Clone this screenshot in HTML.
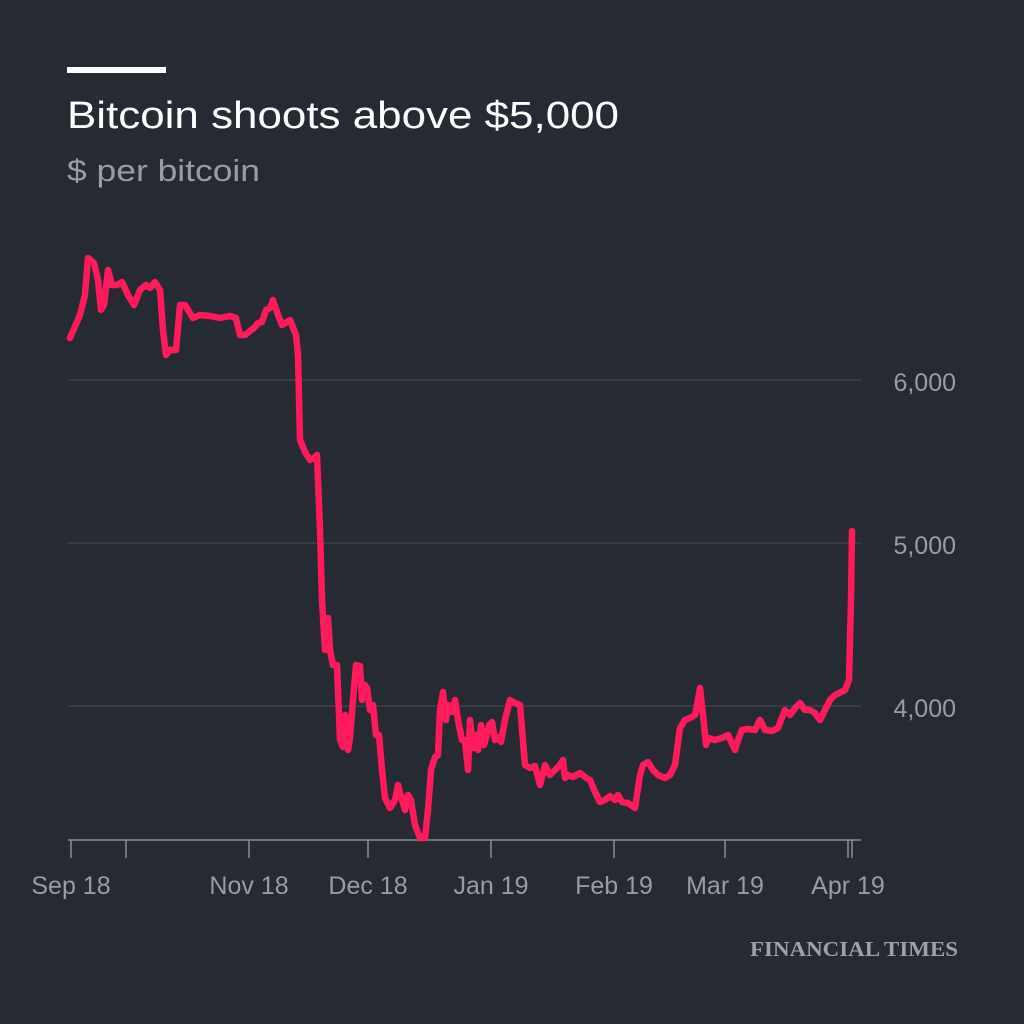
<!DOCTYPE html>
<html><head><meta charset="utf-8"><style>
html,body{margin:0;padding:0;background:#262a33;}
svg{display:block;}
</style></head><body>
<svg width="1024" height="1024" viewBox="0 0 1024 1024" xmlns="http://www.w3.org/2000/svg">
<rect width="1024" height="1024" fill="#262a33"/>
<rect x="67" y="67" width="99" height="6" fill="#ffffff"/>
<text x="67" y="128" font-family="Liberation Sans, sans-serif" font-size="38" fill="#ffffff" textLength="552" lengthAdjust="spacingAndGlyphs">Bitcoin shoots above $5,000</text>
<text x="67" y="181" font-family="Liberation Sans, sans-serif" font-size="31" fill="#9a9ba3" textLength="193" lengthAdjust="spacingAndGlyphs">$ per bitcoin</text>
<g stroke="#3d414a" stroke-width="1.5">
<line x1="68" y1="380" x2="861" y2="380"/>
<line x1="68" y1="543" x2="861" y2="543"/>
<line x1="68" y1="706" x2="861" y2="706"/>
</g>
<g stroke="#8a8c94" stroke-width="1.5">
<line x1="68" y1="840" x2="861" y2="840"/>
<line x1="71" y1="840" x2="71" y2="858"/>
<line x1="126" y1="840" x2="126" y2="858"/>
<line x1="249" y1="840" x2="249" y2="858"/>
<line x1="368" y1="840" x2="368" y2="858"/>
<line x1="491" y1="840" x2="491" y2="858"/>
<line x1="614" y1="840" x2="614" y2="858"/>
<line x1="725" y1="840" x2="725" y2="858"/>
<line x1="848" y1="840" x2="848" y2="858"/>
<line x1="852" y1="840" x2="852" y2="858"/>
</g>
<g font-family="Liberation Sans, sans-serif" font-size="25" fill="#9a9ba3">
<text x="956" y="391" text-anchor="end">6,000</text>
<text x="956" y="554" text-anchor="end">5,000</text>
<text x="956" y="717" text-anchor="end">4,000</text>
<text x="71" y="894" text-anchor="middle">Sep 18</text>
<text x="249" y="894" text-anchor="middle">Nov 18</text>
<text x="368" y="894" text-anchor="middle">Dec 18</text>
<text x="491" y="894" text-anchor="middle">Jan 19</text>
<text x="614" y="894" text-anchor="middle">Feb 19</text>
<text x="725" y="894" text-anchor="middle">Mar 19</text>
<text x="848" y="894" text-anchor="middle">Apr 19</text>
</g>
<text x="958" y="956" text-anchor="end" font-family="Liberation Serif, serif" font-size="21" font-weight="bold" fill="#a0a1a8" textLength="208" lengthAdjust="spacingAndGlyphs">FINANCIAL TIMES</text>
<polyline fill="none" stroke="#ff1a5e" stroke-width="6.5" stroke-linejoin="round" stroke-linecap="round" points="70,338 80,315 85,295 87,270 88,258 94,263 98,280 101,310 104,305 108,270 112,285 117,285 122,282 128,295 134,305 140,290 146,285 150,288 155,282 160,290 163,330 166,355 170,350 176,350 180,305 185,305 193,318 200,315 210,316 220,318 230,316 236,318 240,335 245,335 255,327 258,323 262,322 266,310 270,308 273,300 278,315 282,325 290,320 296,335 298,355 300,440 305,452 310,460 314,458 317,455 320,530 322,600 325,650 328,618 330,650 333,665 337,665 340,740 343,747 345,715 348,750 350,738 353,700 356,665 360,666 362,700 365,685 367,688 370,710 373,705 376,735 379,735 382,770 385,798 390,808 395,800 398,785 402,800 405,810 408,795 411,800 415,825 420,838 425,838 428,810 431,770 435,757 438,755 440,710 443,692 446,720 448,705 452,712 455,700 458,720 462,740 465,740 468,770 470,720 473,748 476,735 478,750 481,725 484,745 487,735 489,725 492,722 495,740 498,737 501,742 505,720 510,700 515,703 520,705 525,765 530,768 535,766 540,785 545,765 550,775 555,770 560,765 563,760 565,778 568,775 573,777 580,773 585,777 590,780 595,792 600,802 605,800 610,796 615,800 618,795 622,802 628,803 635,808 640,775 643,765 648,762 653,770 658,775 665,778 670,775 675,765 680,728 685,720 690,718 695,715 698,700 700,688 703,715 706,745 708,738 715,740 722,738 728,735 735,750 738,740 742,730 748,729 755,730 760,720 765,730 772,731 778,728 785,710 790,715 795,708 800,703 805,710 810,710 815,713 820,720 825,710 830,700 835,695 845,690 849,680 851,600 852,531"/>
</svg>
</body></html>
